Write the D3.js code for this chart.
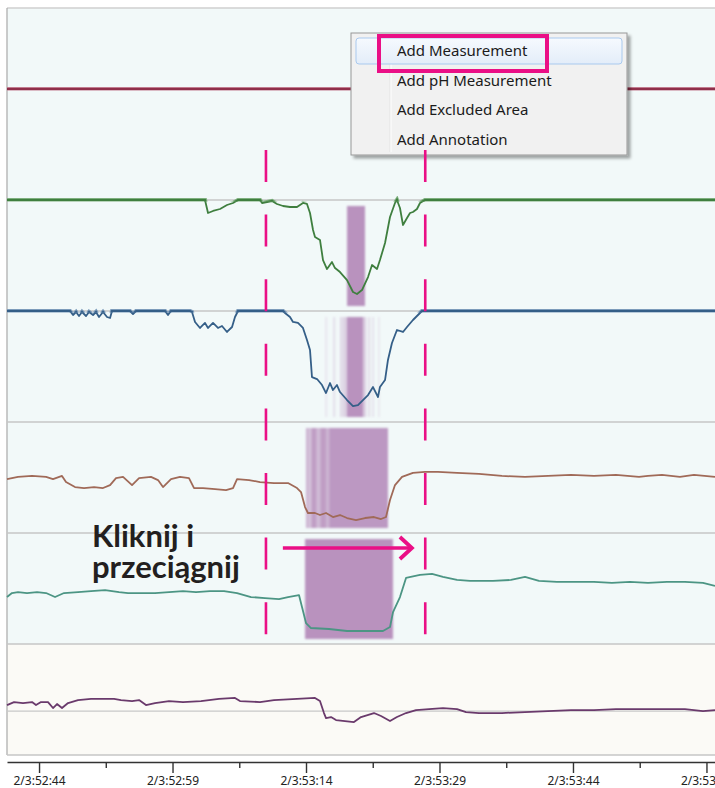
<!DOCTYPE html>
<html><head><meta charset="utf-8">
<script src="https://cdn.jsdelivr.net/npm/d3@7"></script>
<style>html,body{margin:0;padding:0;background:#fff;overflow:hidden}svg{display:block}</style>
</head><body>
<svg id="c" width="715" height="788"></svg>
<script>
// ---------- DATA ----------
const tickLabels = ["2/3:52:44","2/3:52:59","2/3:53:14","2/3:53:29","2/3:53:44","2/3:53:59"];
const tickSeconds = [0, 15, 30, 45, 60, 75];
const minorTickSeconds = [7.5, 22.5, 37.5, 52.5, 67.5];
const timeDomain = [-3.6, 75.96];           // seconds relative to 2/3:52:44
const menuItems = ["Add Measurement","Add pH Measurement","Add Excluded Area","Add Annotation"];
const annotationText = ["Kliknij i", "przeciągnij"];
const measureWindow = [25.5, 43.4];         // dashed selection (s)
const dragArrow = [27.4, 41.9];             // click & drag arrow (s)

// channel traces: [seconds, level 0..100 within channel]
const redTrace = [[-3.6,100],[75.96,100]];
const greenTrace = [[-3.6,100],[18.65,100],[18.99,88.3],[19.55,90.1],[20.34,91.9],[21.12,95.5],[21.8,97.3],[22.36,100],[24.83,100],[25.06,97.3],[25.62,98.2],[26.18,99.1],[26.74,96.4],[27.42,94.6],[28.2,93.7],[28.99,93.7],[29.66,97.3],[30.11,96.4],[30.45,88.3],[30.79,73],[31.01,66.7],[31.57,64],[31.91,45.9],[32.36,37.8],[32.92,44.1],[33.26,38.7],[33.82,35.1],[34.61,27.9],[35.28,17.1],[35.73,15.3],[36.29,18.9],[36.97,30.6],[37.42,41.4],[37.98,37.8],[38.31,45.9],[38.88,61.3],[39.44,84.7],[40,97.3],[40.22,100],[40.56,92.8],[40.9,77.5],[41.35,83.8],[41.69,88.3],[42.02,89.2],[42.47,91.9],[42.81,97.3],[43.37,100],[75.96,100]];
const blueTrace = [[-3.6,100],[3.15,100],[3.48,100],[3.82,96.4],[4.16,99.1],[4.49,95.5],[4.83,99.1],[5.28,95.5],[5.62,99.1],[6.07,96.4],[6.4,99.1],[6.74,94.6],[7.19,99.1],[7.64,94.6],[7.98,93.7],[8.2,100],[10.22,100],[10.56,97.3],[10.9,100],[14.16,100],[14.49,96.4],[14.83,100],[16.97,100],[17.19,99.1],[17.53,90.1],[18.09,84.7],[18.65,89.2],[18.99,84.7],[19.55,89.2],[20.11,84.7],[20.56,86.5],[21.12,81.1],[21.69,85.6],[22.02,94.6],[22.36,100],[27.42,100],[27.64,98.2],[28.2,94.6],[28.54,90.1],[29.1,89.2],[29.66,84.7],[30.11,73.9],[30.45,64.9],[30.67,40.5],[31.24,38.7],[31.8,33.3],[32.25,26.1],[32.7,35.1],[33.03,28.8],[33.48,33.3],[33.82,27],[34.61,19.8],[35.28,14.4],[35.84,15.3],[36.4,19.8],[36.97,24.3],[37.53,31.5],[38.09,22.5],[38.31,31.5],[38.88,37.8],[39.21,55.9],[39.66,71.2],[40.22,82.9],[40.9,81.1],[41.35,85.6],[42.02,91.9],[43.03,100],[75.96,100]];
const brownTrace = [[-3.6,48.6],[-2.36,50.5],[-0.79,51.4],[0.79,50.5],[1.57,48.6],[2.58,51.4],[3.03,45.9],[4.04,41.4],[5.06,40.5],[6.18,41.4],[7.19,40.5],[7.98,43.2],[8.65,49.5],[9.44,50.5],[10.45,43.2],[11.24,49.5],[12.58,50.5],[13.37,47.7],[13.93,41.4],[14.83,48.6],[15.84,50.5],[16.85,49.5],[17.42,40.5],[18.43,40.5],[19.78,39.6],[21.01,38.7],[21.8,40.5],[22.25,48.6],[23.6,47.7],[24.83,45.9],[26.4,45],[27.98,45],[28.99,40.5],[29.44,36.9],[29.89,23.4],[30.22,18],[31.01,18],[31.57,16.2],[32.25,18],[33.03,14.4],[33.82,16.2],[34.61,13.5],[35.62,11.7],[36.63,13.5],[37.64,14.4],[38.43,12.6],[38.99,14.4],[39.44,29.7],[40,43.2],[40.79,50.5],[42.02,54.1],[43.37,55],[44.83,55],[46.97,54.1],[49.44,53.2],[52.02,51.4],[54.61,50.5],[57.19,51.4],[59.78,52.3],[62.36,51.4],[64.83,52.3],[67.42,50.5],[68.43,51.4],[70,52.3],[72.02,50.5],[73.6,52.3],[75.96,50.5]];
const tealTrace = [[-3.6,42.3],[-3.04,45.9],[-2.36,46.8],[-1.35,45.9],[-0.22,46.8],[0.79,45.9],[1.8,42.3],[2.81,45.9],[4.38,46.8],[5.84,47.7],[7.42,48.6],[8.99,46.8],[10,45.9],[11.57,45.9],[13.03,45.9],[14.61,46.8],[16.18,47.7],[17.64,46.8],[19.21,47.7],[20.79,47.7],[22.25,45.9],[23.82,42.3],[25.39,41.4],[26.97,40.5],[27.98,42.3],[29.21,44.1],[29.55,33.3],[30,18.9],[30.56,14.4],[32.58,13.5],[34.61,11.7],[36.63,11.7],[38.65,11.7],[39.44,15.3],[39.78,28.8],[40.56,42.3],[41.24,59.5],[42.81,62.2],[44.16,63.1],[45.39,60.4],[46.97,57.7],[48.43,56.8],[51.01,56.8],[53.03,57.7],[54.61,60.4],[56.18,56.8],[58.2,55.9],[60.22,55.9],[62.36,55.9],[64.38,55],[66.4,55.9],[68.43,55],[70.56,55.9],[72.58,55.9],[74.61,55],[75.96,52.3]];
const purpleTrace = [[-3.6,45],[-2.81,47.7],[-1.8,46.8],[-0.79,47.7],[-0.34,45],[0.22,47.7],[1.01,47.7],[1.57,42.3],[2.02,45.9],[2.58,42.3],[3.26,46.8],[4.38,49.5],[5.84,50.5],[8.43,50.5],[9.21,49.5],[10.45,48.6],[11.24,49.5],[12.02,45],[13.03,46.8],[14.61,48.6],[16.18,47.7],[18.2,48.6],[20.22,50.5],[22.02,51.4],[22.58,48.6],[24.83,47.7],[26.4,49.5],[28.99,50.5],[31.01,51.4],[31.57,48.6],[32.02,37.8],[32.25,33.3],[32.81,34.2],[33.37,31.5],[35.39,29.7],[36.18,34.2],[37.64,37.8],[38.43,35.1],[39.44,30.6],[40.22,34.2],[41.24,37.8],[42.36,40.5],[43.82,41.4],[45.39,42.3],[46.97,41.4],[47.98,38.7],[49.44,37.8],[52.02,37.8],[54.61,38.7],[57.19,39.6],[59.78,40.5],[62.36,40.5],[64.83,41.4],[67.42,41.4],[70,41.4],[72.58,41.4],[74.61,39.6],[75.96,40.5]];
const purpleRefLevel = 39.6;

// excluded / swallow shading per channel: [t0, t1, opacity]
const greenShade = [[34.61,36.63,0.9]];
const blueShade = [[32.13,32.4,0.15],[33.03,33.3,0.2],[33.82,34.1,0.3],[34.16,34.61,0.35],[34.61,36.4,0.9],[36.4,36.74,0.4],[36.97,37.2,0.25],[37.42,37.64,0.2],[38.09,38.31,0.15]];
const brownShade = [[30.0,30.2,0.65],[30.2,30.6,0.5],[30.6,31.2,0.8],[31.2,31.6,0.55],[31.6,32.3,0.8],[32.3,32.6,0.6],[32.6,39.21,0.85]];
const tealShade = [[29.89,39.78,0.9]];
const shadeLevels = [4.5, 94.6];

// ---------- LAYOUT ----------
const W = 715, H = 788;
const L = 7, R = 715, TOP = 8, PT = 89, PH = 111, NP = 6;
const svg = d3.select("#c");
const defs = svg.append("defs");
const x = d3.scaleLinear().domain(timeDomain).range([L, R]);
const ys = d3.range(NP).map(i => d3.scaleLinear().domain([0,100]).range([PT + PH*(i+1), PT + PH*i]));

defs.append("filter").attr("id","soft").attr("x","-20%").attr("width","140%")
  .append("feGaussianBlur").attr("stdDeviation",0.8);
const sh = defs.append("filter").attr("id","shadow").attr("x","-5%").attr("y","-5%").attr("width","115%").attr("height","120%");
sh.append("feDropShadow").attr("dx",3).attr("dy",3).attr("stdDeviation",1.6).attr("flood-color","#000").attr("flood-opacity",0.35);
const hg = defs.append("linearGradient").attr("id","hl").attr("x1",0).attr("y1",0).attr("x2",0).attr("y2",1);
hg.append("stop").attr("offset","0%").attr("stop-color","#f6fafe");
hg.append("stop").attr("offset","100%").attr("stop-color","#e3edf9");
d3.range(NP).forEach(i => {
  defs.append("clipPath").attr("id","top"+i).append("rect")
    .attr("x",L).attr("y",PT+PH*i-4).attr("width",R-L).attr("height",5.5);
});

// backgrounds
svg.append("rect").attr("x",L).attr("y",TOP).attr("width",R-L).attr("height",PT+PH*5-TOP).attr("fill","#f2f9f9");
svg.append("rect").attr("x",L).attr("y",PT+PH*5).attr("width",R-L).attr("height",PH).attr("fill","#fbfaf6");
svg.append("line").attr("x1",L).attr("x2",R).attr("y1",TOP).attr("y2",TOP).attr("stroke","#cfcfcf").attr("stroke-width",1.5);
svg.append("line").attr("x1",L).attr("x2",L).attr("y1",TOP).attr("y2",PT+PH*NP).attr("stroke","#a9a9a9").attr("stroke-width",1.2);
d3.range(1, NP+1).forEach(i => {
  svg.append("line").attr("x1",L).attr("x2",R).attr("y1",PT+PH*i).attr("y2",PT+PH*i)
    .attr("stroke","#c6c6c6").attr("stroke-width",1.5);
});
svg.append("line").attr("x1",L).attr("x2",R).attr("y1",ys[5](purpleRefLevel)).attr("y2",ys[5](purpleRefLevel))
  .attr("stroke","#c8c8c8").attr("stroke-width",1.3);

// shading
function shade(data, i){
  svg.append("g").attr("filter","url(#soft)").selectAll("rect").data(data).join("rect")
    .attr("x", d => x(d[0])).attr("width", d => x(d[1]) - x(d[0]))
    .attr("y", ys[i](shadeLevels[1])).attr("height", ys[i](shadeLevels[0]) - ys[i](shadeLevels[1]))
    .attr("fill","#b387b8").attr("fill-opacity", d => d[2]);
}
shade(greenShade,1); shade(blueShade,2); shade(brownShade,3); shade(tealShade,4);

// traces
function trace(data, i, color, light){
  const line = d3.line().x(d => x(d[0])).y(d => ys[i](d[1]));
  svg.append("path").attr("d", line(data)).attr("fill","none").attr("stroke",color)
    .attr("stroke-width",1.8).attr("stroke-linejoin","round");
  const t = svg.append("g").attr("clip-path","url(#top"+i+")");
  t.append("path").attr("d", line(data)).attr("fill","none").attr("stroke",light).attr("stroke-width",4.2);
  t.append("path").attr("d", line(data)).attr("fill","none").attr("stroke",color).attr("stroke-width",2.2);
}
trace(redTrace,0,"#8f2f4a","#c27d90");
trace(greenTrace,1,"#3f7f3f","#7fb07f");
trace(blueTrace,2,"#355f88","#7d9cbb");
trace(brownTrace,3,"#a06a58","#c8a094");
trace(tealTrace,4,"#4c9584","#8cc0b3");
trace(purpleTrace,5,"#6a3a6c","#a07ca2");

// axis
const axisY = PT + PH*NP + 7;
svg.append("g").attr("transform",`translate(0,${axisY})`)
  .call(d3.axisBottom(x).tickValues(minorTickSeconds).tickSize(6).tickSizeOuter(0).tickFormat(""))
  .call(g => g.select(".domain").attr("stroke","#333").attr("stroke-width",1.6))
  .call(g => g.selectAll(".tick line").attr("stroke","#333").attr("stroke-width",1.4));
svg.append("g").attr("transform",`translate(0,${axisY})`)
  .call(d3.axisBottom(x).tickValues(tickSeconds).tickSize(11).tickSizeOuter(0).tickPadding(3).tickFormat((d,i)=>tickLabels[i]))
  .call(g => g.select(".domain").remove())
  .call(g => g.selectAll(".tick line").attr("stroke","#333").attr("stroke-width",1.4))
  .call(g => g.selectAll(".tick text").attr("font-family","'Noto Sans', sans-serif").attr("font-size",12).attr("fill","#222"));

// context menu
const mx = 351, my = 33, mw = 276, mh = 122, rowH = 29.5;
const menu = svg.append("g");
menu.append("rect").attr("x",mx).attr("y",my).attr("width",mw).attr("height",mh)
  .attr("fill","#f1f1f1").attr("stroke","#979797").attr("stroke-width",1).attr("filter","url(#shadow)");
menu.append("line").attr("x1",mx+39).attr("x2",mx+39).attr("y1",my+4).attr("y2",my+mh-3).attr("stroke","#e2e2e2").attr("stroke-width",1);
menu.append("line").attr("x1",mx+40).attr("x2",mx+40).attr("y1",my+4).attr("y2",my+mh-3).attr("stroke","#ffffff").attr("stroke-width",1);
menu.append("rect").attr("x",mx+5).attr("y",my+5).attr("width",mw-10).attr("height",26).attr("rx",3)
  .attr("fill","url(#hl)").attr("stroke","#a9c9ee").attr("stroke-width",1);
menu.selectAll("text.item").data(menuItems).join("text").attr("class","item")
  .attr("x", mx+46).attr("y",(d,i)=> my+23 + i*rowH)
  .attr("font-family","'Noto Sans', sans-serif").attr("font-size",15).attr("fill","#1b1b1b").text(d=>d);

// pink highlight around first item
const pink = "#ea0f86";
svg.append("rect").attr("x",379).attr("y",36).attr("width",168).attr("height",35)
  .attr("fill","none").attr("stroke",pink).attr("stroke-width",4);

// dashed selection lines
measureWindow.forEach(t => {
  svg.append("line").attr("x1",x(t)).attr("x2",x(t)).attr("y1",150).attr("y2",636)
    .attr("stroke",pink).attr("stroke-width",2.6).attr("stroke-dasharray","32,32.6");
});

// drag arrow
const ay = 548;
svg.append("line").attr("x1",x(dragArrow[0])).attr("x2",x(dragArrow[1])).attr("y1",ay).attr("y2",ay)
  .attr("stroke",pink).attr("stroke-width",3.6);
svg.append("path").attr("d",`M${x(dragArrow[1])-12},${ay-11} L${x(dragArrow[1])},${ay} L${x(dragArrow[1])-12},${ay+11}`)
  .attr("fill","none").attr("stroke",pink).attr("stroke-width",3.8);

// annotation text (one block, two lines)
const note = svg.append("text").attr("x",92).attr("y",547)
  .attr("font-family","Lato, 'Open Sans', sans-serif").attr("font-weight",700).attr("font-size",31)
  .attr("fill","#231f20");
note.selectAll("tspan").data(annotationText).join("tspan")
  .attr("x",92).attr("dy",(d,i)=> i === 0 ? 0 : 31).text(d=>d);
</script>
</body></html>
